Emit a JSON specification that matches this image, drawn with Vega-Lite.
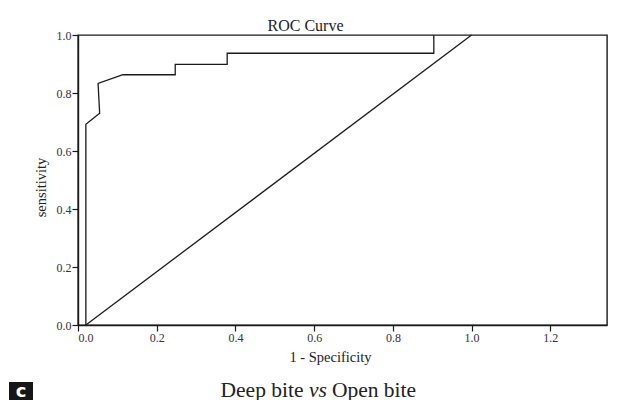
{
  "$schema": "https://vega.github.io/schema/vega-lite/v6.json",
  "background": "white",
  "padding": {"left": 9, "top": 17, "right": 33, "bottom": 0},
  "spacing": 15,
  "config": {
    "view": {"stroke": "#1a1a1a", "strokeWidth": 1.4},
    "axis": {"labelFont": "Liberation Serif", "labelFontSize": 12, "labelColor": "#333", "titleFont": "Liberation Serif", "titleFontSize": 14.5, "titleFontWeight": "normal", "titleColor": "#222", "domainColor": "#1a1a1a", "domainWidth": 1.4, "tickColor": "#1a1a1a", "tickWidth": 1.2, "tickSize": 6, "grid": false, "labelPadding": 1}
  },
  "datasets": {
    "roc": [
      {"series": "curve", "step": 1, "fpr": 0.02, "tpr": 0.0},
      {"series": "curve", "step": 2, "fpr": 0.02, "tpr": 0.692},
      {"series": "curve", "step": 3, "fpr": 0.055, "tpr": 0.73},
      {"series": "curve", "step": 4, "fpr": 0.051, "tpr": 0.833},
      {"series": "curve", "step": 5, "fpr": 0.114, "tpr": 0.863},
      {"series": "curve", "step": 6, "fpr": 0.247, "tpr": 0.863},
      {"series": "curve", "step": 7, "fpr": 0.247, "tpr": 0.899},
      {"series": "curve", "step": 8, "fpr": 0.379, "tpr": 0.899},
      {"series": "curve", "step": 9, "fpr": 0.379, "tpr": 0.937},
      {"series": "curve", "step": 10, "fpr": 0.904, "tpr": 0.937},
      {"series": "curve", "step": 11, "fpr": 0.904, "tpr": 1.0},
      {"series": "reference", "step": 1, "fpr": 0.02, "tpr": 0.0},
      {"series": "reference", "step": 2, "fpr": 1.0, "tpr": 1.0}
    ],
    "caption": [
      {"word": "Deep bite"},
      {"word": "vs"},
      {"word": "Open bite"}
    ],
    "panel": [
      {"label": "c"}
    ]
  },
  "vconcat": [
    {
      "bounds": "flush",
      "spacing": 45,
      "hconcat": [
        {
          "width": 24,
          "height": 290,
          "view": {"stroke": null},
          "data": {"name": "panel"},
          "mark": {"type": "text", "opacity": 0},
          "encoding": {"text": {"field": "label"}}
        },
        {
          "title": {"text": "ROC Curve", "anchor": "middle", "font": "Liberation Serif", "fontSize": 16, "fontWeight": "normal", "color": "#222", "offset": -5, "dx": -37},
          "width": 529,
          "height": 290,
          "data": {"name": "roc"},
          "mark": {"type": "line", "color": "#1a1a1a", "strokeWidth": 1.3},
          "encoding": {
            "x": {"field": "fpr", "type": "quantitative", "title": "1 - Specificity", "scale": {"domain": [0, 1.344], "nice": false, "zero": false}, "axis": {"values": [0, 0.2, 0.4, 0.6, 0.8, 1.0, 1.2], "format": ".1f", "titlePadding": 7, "titleX": 252}},
            "y": {"field": "tpr", "type": "quantitative", "title": "sensitivity", "scale": {"domain": [0, 1], "nice": false}, "axis": {"values": [0, 0.2, 0.4, 0.6, 0.8, 1.0], "format": ".1f", "titlePadding": 8, "titleY": 152}},
            "detail": {"field": "series"},
            "order": {"field": "step", "type": "quantitative"}
          }
        }
      ]
    },
    {
      "bounds": "flush",
      "spacing": 0,
      "hconcat": [
        {
          "width": 24,
          "height": 20,
          "view": {"stroke": null, "fill": "#161616"},
          "data": {"name": "panel"},
          "mark": {"type": "text", "color": "white", "font": "DejaVu Sans", "fontWeight": "bold", "fontSize": 18, "baseline": "middle", "align": "center"},
          "encoding": {"text": {"field": "label"}}
        },
        {
          "width": 578,
          "height": 20,
          "view": {"stroke": null},
          "data": {"name": "caption"},
          "encoding": {
            "x": {"field": "word", "type": "nominal", "sort": ["Deep bite", "vs", "Open bite"], "scale": {"type": "point", "padding": 0, "range": [229, 341]}, "axis": null},
            "text": {"field": "word"}
          },
          "layer": [
            {
              "transform": [{"filter": "datum.word !== 'vs'"}],
              "mark": {"type": "text", "font": "Liberation Serif", "fontSize": 21.5, "color": "#222", "baseline": "middle", "dy": -1}
            },
            {
              "transform": [{"filter": "datum.word === 'vs'"}],
              "mark": {"type": "text", "font": "Liberation Serif", "fontSize": 21.5, "fontStyle": "italic", "color": "#222", "baseline": "middle", "dy": -1}
            }
          ]
        }
      ]
    }
  ]
}
